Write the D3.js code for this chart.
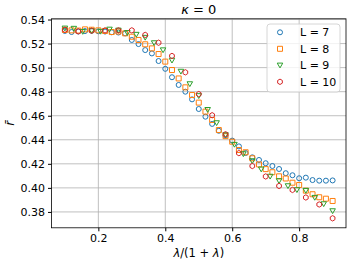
<!DOCTYPE html>
<html>
<head>
<meta charset="utf-8">
<script src="https://cdn.jsdelivr.net/npm/d3@7"></script>
<style>
  body { margin: 0; background: #fff; }
  svg text { font-family: "DejaVu Sans", sans-serif; fill: #000; }
</style>
</head>
<body>
<svg id="canvas" width="354" height="265"></svg>
<script>
// x grids of each system size
const x7 = d3.range(0, 41).map(i => 0.1 + i * 0.02);
const x8 = d3.range(0, 41).map(i => 0.1 + i * 0.02);
const x9 = d3.range(0, 31).map(i => 0.1 + i * 0.8 / 30);
const x10 = d3.range(0, 21).map(i => 0.1 + i * 0.04);

// mean r
const r7 = [0.5305, 0.5296, 0.5300, 0.5304, 0.5306, 0.5302, 0.5300, 0.5294, 0.5292, 0.5285,
            0.5230, 0.5196, 0.5146, 0.5118, 0.5055, 0.4990, 0.4920, 0.4856, 0.4800, 0.4736,
            0.4656, 0.4592, 0.4532, 0.4475, 0.4435, 0.4393, 0.4345, 0.4290, 0.4254, 0.4232,
            0.4205, 0.4182, 0.4157, 0.4122, 0.4105, 0.4080, 0.4085, 0.4065, 0.4060, 0.4060, 0.4062];
const r8 = [0.5313, 0.5310, 0.5308, 0.5318, 0.5315, 0.5310, 0.5305, 0.5296, 0.5300, 0.5285,
            0.5257, 0.5230, 0.5194, 0.5160, 0.5113, 0.5050, 0.4980, 0.4910, 0.4836, 0.4772,
            0.4709, 0.4634, 0.4565, 0.4481, 0.4430, 0.4384, 0.4315, 0.4296, 0.4246, 0.4195,
            0.4156, 0.4130, 0.4096, 0.4078, 0.4043, 0.4024, 0.3977, 0.3947, 0.3922, 0.3910, 0.3891];
const r9 = [0.5327, 0.5325, 0.5299, 0.5305, 0.5300, 0.5318, 0.5310, 0.5290, 0.5275, 0.5250,
            0.5205, 0.5146, 0.5060, 0.4968, 0.4864, 0.4765, 0.4650, 0.4540, 0.4440, 0.4360,
            0.4282, 0.4224, 0.4155, 0.4095, 0.4058, 0.4016, 0.3983, 0.3977, 0.3919, 0.3866, 0.3808];
const r10 = [0.5315, 0.5302, 0.5307, 0.5310, 0.5310, 0.5310, 0.5272, 0.5207, 0.5097, 0.4961,
             0.4780, 0.4604, 0.4446, 0.4289, 0.4182, 0.4095, 0.4016, 0.3983, 0.3920, 0.3862, 0.3747];

const labels = ['L = 7', 'L = 8', 'L = 9', 'L = 10'];
const colors = ['#1f77b4', '#ff7f0e', '#2ca02c', '#d62728'];
const shapes = ['circle', 'square', 'tridown', 'hexagon'];
const xTicks = [0.2, 0.4, 0.6, 0.8];
const yTicks = [0.38, 0.40, 0.42, 0.44, 0.46, 0.48, 0.50, 0.52, 0.54];

const series = [
  { label: labels[0], xs: x7, ys: r7 },
  { label: labels[1], xs: x8, ys: r8 },
  { label: labels[2], xs: x9, ys: r9 },
  { label: labels[3], xs: x10, ys: r10 }
];

let canvas = d3.select('#canvas');
let plotLeft = 51.5, plotRight = 346, plotTop = 18.8, plotBottom = 227.8;

let xScale = d3.scaleLinear().domain([0.06, 0.94]).range([plotLeft, plotRight]);
let yScale = d3.scaleLinear().domain([0.3668, 0.5406]).range([plotBottom, plotTop]);

// marker path centred on 0,0
let markerPath = (shape) => {
  if (shape === 'circle') {
    return d3.symbol().type(d3.symbolCircle).size(Math.PI * 2.5 * 2.5)();
  }
  if (shape === 'square') {
    return 'M-2.5,-2.5H2.5V2.5H-2.5Z';
  }
  let n = shape === 'tridown' ? 3 : 6;
  let rad = shape === 'tridown' ? 3.2 : 2.7;
  let start = shape === 'tridown' ? Math.PI / 2 : -Math.PI / 2;
  let pts = d3.range(n).map(i => {
    let a = start + i * 2 * Math.PI / n;
    return [rad * Math.cos(a), rad * Math.sin(a) + (shape === 'tridown' ? -0.6 : 0)];
  });
  return 'M' + pts.map(p => p.join(',')).join('L') + 'Z';
};

// grid
canvas.append('g')
  .selectAll('line')
  .data(xTicks)
  .enter()
  .append('line')
  .attr('x1', d => xScale(d)).attr('x2', d => xScale(d))
  .attr('y1', plotTop).attr('y2', plotBottom)
  .attr('stroke', '#b0b0b0').attr('stroke-width', 0.8);
canvas.append('g')
  .selectAll('line')
  .data(yTicks)
  .enter()
  .append('line')
  .attr('x1', plotLeft).attr('x2', plotRight)
  .attr('y1', d => yScale(d)).attr('y2', d => yScale(d))
  .attr('stroke', '#b0b0b0').attr('stroke-width', 0.8);

// points
series.forEach((s, i) => {
  canvas.append('g')
    .selectAll('path')
    .data(s.xs.map((x, j) => [x, s.ys[j]]))
    .enter()
    .append('path')
    .attr('d', markerPath(shapes[i]))
    .attr('transform', d => `translate(${xScale(d[0])},${yScale(d[1])})`)
    .attr('fill', 'none')
    .attr('stroke', colors[i])
    .attr('stroke-width', 1);
});

// axes
let xAxis = d3.axisBottom(xScale).tickValues(xTicks).tickFormat(d3.format('.1f')).tickSize(3.5).tickPadding(3);
let yAxis = d3.axisLeft(yScale).tickValues(yTicks).tickFormat(d3.format('.2f')).tickSize(3.5).tickPadding(3);

canvas.append('g')
  .attr('transform', `translate(0,${plotBottom})`)
  .call(xAxis)
  .call(g => g.select('.domain').remove())
  .selectAll('text').attr('font-size', 11).attr('font-family', 'DejaVu Sans');
canvas.append('g')
  .attr('transform', `translate(${plotLeft},0)`)
  .call(yAxis)
  .call(g => g.select('.domain').remove())
  .selectAll('text').attr('font-size', 11).attr('font-family', 'DejaVu Sans');

canvas.append('rect')
  .attr('x', plotLeft).attr('y', plotTop)
  .attr('width', plotRight - plotLeft).attr('height', plotBottom - plotTop)
  .attr('fill', 'none').attr('stroke', '#000').attr('stroke-width', 0.8);

// title
let title = canvas.append('text')
  .attr('x', (plotLeft + plotRight) / 2).attr('y', 13.5)
  .attr('text-anchor', 'middle').attr('font-size', 13);
title.append('tspan').attr('font-style', 'italic').text('κ');
title.append('tspan').text(' = 0');

// x label
let xl = canvas.append('text')
  .attr('x', (plotLeft + plotRight) / 2).attr('y', 257)
  .attr('text-anchor', 'middle').attr('font-size', 11.5);
xl.append('tspan').attr('font-style', 'italic').text('λ');
xl.append('tspan').text('/(1 + ');
xl.append('tspan').attr('font-style', 'italic').text('λ');
xl.append('tspan').text(')');

// y label
canvas.append('text')
  .attr('transform', `translate(14,${(plotTop + plotBottom) / 2}) rotate(-90)`)
  .attr('text-anchor', 'middle').attr('font-size', 12)
  .attr('font-style', 'italic')
  .text('r\u0304');

// legend
let legend = canvas.append('g');
legend.append('rect')
  .attr('x', 267).attr('y', 24).attr('width', 73).attr('height', 68).attr('rx', 3)
  .attr('fill', '#fff').attr('fill-opacity', 0.8)
  .attr('stroke', '#cccccc').attr('stroke-width', 0.8);
labels.forEach((lab, i) => {
  let cy = 32.3 + i * 16.5;
  legend.append('path')
    .attr('d', markerPath(shapes[i]))
    .attr('transform', `translate(280,${cy})`)
    .attr('fill', 'none').attr('stroke', colors[i]).attr('stroke-width', 1);
  legend.append('text')
    .attr('x', 300).attr('y', cy + 4)
    .attr('font-size', 11)
    .text(lab);
});
</script>
</body>
</html>
